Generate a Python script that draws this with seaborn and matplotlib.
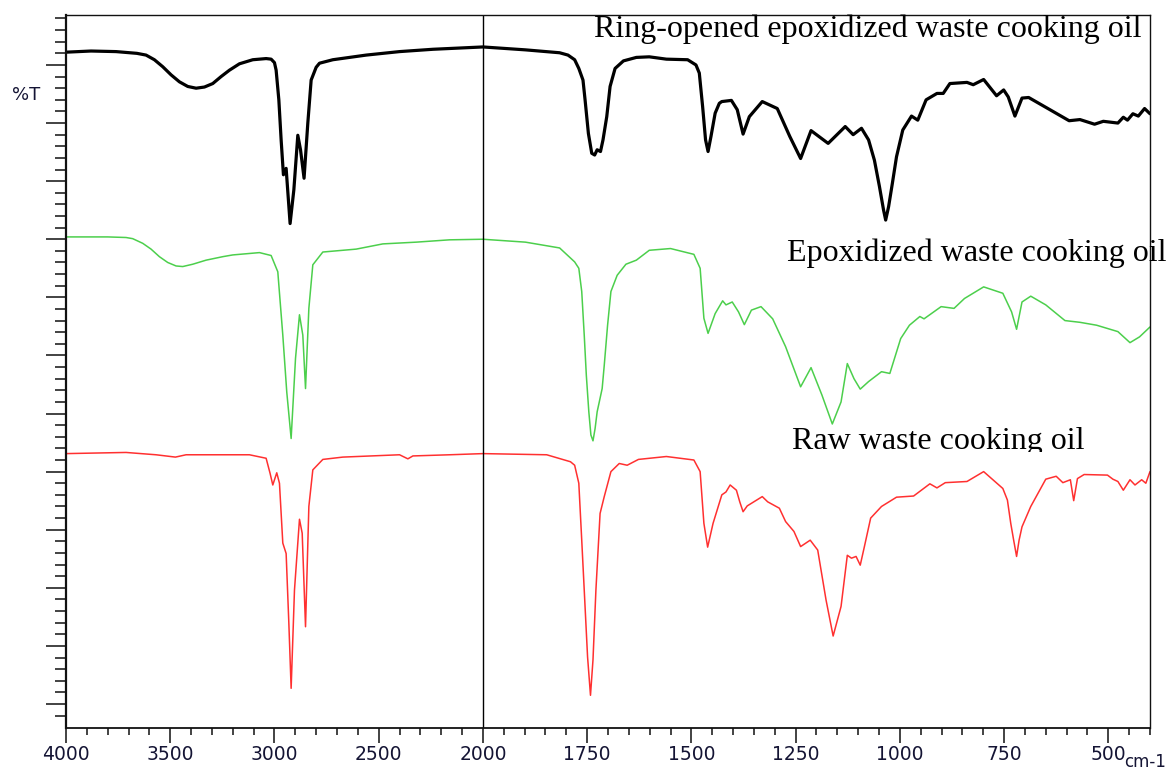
import numpy as np
import pandas as pd
import matplotlib
matplotlib.use("Agg")
import matplotlib.pyplot as plt
import seaborn as sns
from matplotlib.ticker import FixedLocator, FuncFormatter
from matplotlib.transforms import Bbox

# ---------------- data: (wavenumber cm-1, displayed %T, stacked traces) ----------------
ring_pts = [(4000, 112.2), (3880, 112.4), (3760, 112.3), (3660, 112.0), (3616, 111.7), (3576, 110.9),
            (3536, 109.7), (3496, 108.3), (3456, 107.1), (3416, 106.3), (3376, 106.0), (3336, 106.2),
            (3296, 106.8), (3256, 108.0), (3216, 109.1), (3168, 110.2), (3104, 110.9), (3040, 111.1),
            (3016, 111.0), (3000, 110.4), (2992, 109.1), (2979, 104.0), (2968, 97.1), (2957, 91.1),
            (2944, 92.2), (2925, 82.7), (2907, 88.5), (2888, 97.9), (2875, 95.4), (2858, 90.5),
            (2840, 100.0), (2824, 107.4), (2800, 109.6), (2784, 110.3), (2720, 110.9), (2560, 111.7),
            (2400, 112.3), (2240, 112.7), (2000, 113.1), (1898, 112.6), (1816, 112.1), (1796, 111.7),
            (1780, 110.9), (1770, 109.4), (1760, 107.4), (1755, 104.0), (1747, 98.2), (1739, 94.8),
            (1732, 94.5), (1726, 95.4), (1718, 95.1), (1712, 97.1), (1703, 101.1), (1695, 106.3),
            (1683, 109.4), (1663, 110.7), (1632, 111.3), (1601, 111.4), (1560, 111.0), (1509, 110.9),
            (1489, 110.0), (1481, 108.6), (1473, 102.8), (1466, 97.1), (1460, 95.1), (1453, 97.7),
            (1443, 101.7), (1433, 103.4), (1427, 103.7), (1404, 103.9), (1390, 102.3), (1376, 98.1),
            (1361, 101.1), (1330, 103.7), (1294, 102.5), (1264, 97.7), (1238, 93.9), (1213, 98.7),
            (1172, 96.5), (1131, 99.4), (1112, 98.0), (1092, 99.1), (1075, 97.1), (1061, 93.6),
            (1049, 89.1), (1039, 85.0), (1034, 83.3), (1027, 85.6), (1018, 89.6), (1008, 94.2),
            (993, 98.8), (972, 101.2), (957, 100.5), (937, 104.0), (911, 105.1), (896, 105.1),
            (880, 106.8), (839, 107.0), (824, 106.6), (799, 107.5), (768, 104.7), (751, 105.7),
            (740, 104.5), (724, 101.2), (707, 104.3), (691, 104.4), (640, 102.3), (594, 100.4),
            (568, 100.6), (533, 99.8), (512, 100.3), (477, 100.0), (464, 101.0), (454, 100.5),
            (441, 101.6), (428, 101.2), (413, 102.5), (400, 101.6)]

epox_pts = [(4000, 80.4), (3800, 80.4), (3712, 80.3), (3680, 80.1), (3632, 79.3), (3592, 78.3),
            (3552, 77.0), (3512, 76.0), (3472, 75.4), (3440, 75.3), (3392, 75.7), (3328, 76.4),
            (3248, 77.0), (3200, 77.3), (3072, 77.7), (3016, 77.2), (2984, 74.4), (2960, 63.5),
            (2941, 53.7), (2920, 45.7), (2899, 59.5), (2880, 67.0), (2864, 63.5), (2851, 54.3),
            (2835, 68.1), (2816, 75.6), (2768, 77.8), (2608, 78.3), (2480, 79.2), (2320, 79.5),
            (2160, 79.9), (2000, 80.0), (1898, 79.5), (1816, 78.5), (1780, 76.1), (1770, 75.0),
            (1763, 71.0), (1757, 63.5), (1752, 56.6), (1746, 50.3), (1741, 46.3), (1736, 45.3),
            (1731, 47.4), (1726, 50.3), (1714, 54.3), (1709, 58.3), (1701, 65.2), (1693, 71.0),
            (1678, 73.8), (1657, 75.7), (1632, 76.4), (1601, 78.1), (1550, 78.4), (1494, 77.4),
            (1479, 75.0), (1470, 66.4), (1460, 63.8), (1443, 67.2), (1425, 69.4), (1417, 68.7),
            (1402, 69.2), (1387, 67.5), (1373, 65.3), (1356, 67.8), (1333, 68.4), (1305, 66.3),
            (1274, 61.5), (1238, 54.6), (1213, 57.9), (1187, 53.2), (1162, 48.2), (1141, 52.0),
            (1126, 58.6), (1110, 56.0), (1095, 54.2), (1075, 55.5), (1044, 57.2), (1024, 56.9),
            (998, 62.9), (977, 65.2), (952, 66.7), (942, 66.3), (901, 68.4), (870, 68.1),
            (845, 69.8), (799, 71.8), (753, 70.7), (732, 67.5), (720, 64.5), (707, 69.2),
            (686, 70.2), (650, 68.7), (604, 66.0), (568, 65.7), (528, 65.2), (477, 64.1),
            (448, 62.2), (425, 63.2), (400, 64.9)]

raw_pts = [(4000, 43.1), (3712, 43.3), (3568, 42.9), (3475, 42.5), (3424, 42.9), (3120, 42.9),
           (3040, 42.3), (3021, 39.7), (3008, 37.7), (2989, 39.8), (2976, 38.0), (2960, 27.7),
           (2944, 25.9), (2931, 13.9), (2920, 2.7), (2904, 19.6), (2880, 31.8), (2867, 29.4),
           (2851, 13.3), (2835, 34.0), (2816, 40.3), (2768, 42.1), (2672, 42.5), (2400, 42.9),
           (2360, 42.2), (2336, 42.7), (2160, 42.9), (2000, 43.1), (1847, 42.9), (1790, 41.7),
           (1780, 41.1), (1770, 38.0), (1763, 28.2), (1757, 19.6), (1749, 8.1), (1742, 1.5),
           (1736, 7.6), (1729, 19.6), (1719, 32.8), (1709, 35.7), (1693, 40.0), (1673, 41.4),
           (1654, 41.1), (1627, 42.1), (1560, 42.6), (1494, 42.0), (1479, 40.0), (1470, 31.1),
           (1461, 27.0), (1448, 31.1), (1427, 36.0), (1417, 36.5), (1407, 37.7), (1392, 36.8),
           (1384, 34.8), (1376, 33.1), (1366, 34.1), (1330, 35.7), (1317, 34.8), (1289, 33.7),
           (1274, 31.4), (1254, 29.7), (1238, 27.1), (1215, 28.2), (1197, 26.5), (1177, 17.9),
           (1160, 11.7), (1141, 16.8), (1126, 25.6), (1116, 25.1), (1105, 25.4), (1095, 23.9),
           (1085, 27.1), (1070, 32.0), (1044, 34.0), (1008, 35.6), (967, 35.8), (928, 37.9),
           (911, 37.2), (891, 38.1), (839, 38.3), (799, 40.0), (753, 37.1), (742, 35.1),
           (734, 31.1), (727, 28.2), (720, 25.4), (714, 28.2), (707, 30.5), (686, 34.0),
           (650, 38.7), (625, 39.2), (609, 38.1), (591, 38.6), (583, 35.0), (574, 38.8),
           (558, 39.5), (502, 39.4), (489, 38.7), (477, 38.3), (464, 36.8), (448, 38.6),
           (436, 37.7), (420, 38.6), (410, 38.0), (400, 40.0)]

labels = ["Ring-opened epoxidized waste cooking oil",
          "Epoxidized waste cooking oil",
          "Raw waste cooking oil"]
x_major = [4000, 3500, 3000, 2500, 2000, 1750, 1500, 1250, 1000, 750, 500]

# ---------------- figure ----------------
sns.set_style("ticks")
plt.rcParams["font.family"] = ["DejaVu Sans"]

W, H = 1168, 773
fig = plt.figure(figsize=(W / 100, H / 100), dpi=100)
ax = fig.add_axes([66 / W, 1 - 727.7 / H, (1150 - 66) / W, (727.7 - 15) / H])


def to_df(pts):
    wn, t = zip(*pts)
    return pd.DataFrame({"wn": wn, "T": t})


sns.lineplot(data=to_df(ring_pts), x="wn", y="T", ax=ax, color="black", linewidth=2.3, estimator=None)
sns.lineplot(data=to_df(epox_pts), x="wn", y="T", ax=ax, color="#4ccf4c", linewidth=1.1, estimator=None)
sns.lineplot(data=to_df(raw_pts), x="wn", y="T", ax=ax, color="#ff3030", linewidth=1.1, estimator=None)

ax.axvline(2000, color="black", linewidth=1.0)


def fwd(x):
    x = np.asarray(x, dtype=float)
    return np.where(x <= 2000, x, 2000 + (x - 2000) / 2.0)


def inv(t):
    t = np.asarray(t, dtype=float)
    return np.where(t <= 2000, t, 2000 + (t - 2000) * 2.0)


ax.set_xscale("function", functions=(fwd, inv))
ax.set_xlim(4000, 400)
ax.set_ylim(-4.08, 118.6)

x_minor = [v for v in list(range(4000, 2000, -100)) + list(range(2000, 399, -50)) if v not in x_major]
ax.xaxis.set_major_locator(FixedLocator(x_major))
ax.xaxis.set_minor_locator(FixedLocator(x_minor))
ax.xaxis.set_major_formatter(FuncFormatter(lambda v, p: f"{v:.0f}"))

ax.yaxis.set_major_locator(FixedLocator(list(range(0, 111, 10))))
ax.yaxis.set_minor_locator(FixedLocator([v for v in range(-2, 119, 2) if v % 10 != 0]))
ax.set_yticklabels([])

ax.set_xlabel("")
ax.set_ylabel("")

lab_color = "#141434"
ax.tick_params(axis="x", which="major", direction="out", length=10.8, width=1.2, color="#222222",
               labelsize=13.5, labelcolor=lab_color, pad=2)
ax.tick_params(axis="x", which="minor", direction="out", length=5.0, width=1.2, color="#222222")
ax.tick_params(axis="y", which="major", direction="out", length=14.2, width=1.2, color="#222222")
ax.tick_params(axis="y", which="minor", direction="out", length=7.9, width=1.2, color="#222222")

for side in ["left", "right", "top", "bottom"]:
    ax.spines[side].set_visible(True)
    ax.spines[side].set_color("#111111")
ax.spines["left"].set_linewidth(1.6)
ax.spines["bottom"].set_linewidth(1.3)
ax.spines["top"].set_linewidth(1.0)
ax.spines["right"].set_linewidth(1.0)

serif = ["Liberation Serif", "DejaVu Serif"]
ax.text((594 - 66) / 1084, (727.7 - 37) / 712.7, labels[0], transform=ax.transAxes,
        fontsize=23, family=serif, ha="left", va="baseline", color="black")
ax.text((787 - 66) / 1084, (727.7 - 261) / 712.7, labels[1], transform=ax.transAxes,
        fontsize=23, family=serif, ha="left", va="baseline", color="black", clip_on=False)
t_raw = ax.text((792 - 66) / 1084, (727.7 - 449) / 712.7, labels[2], transform=ax.transAxes,
                fontsize=23, family=serif, ha="left", va="baseline", color="black")
t_raw.set_clip_on(True)
t_raw.set_clip_box(Bbox.from_extents(0, H - 452, W, H))

fig.text(12 / W, 1 - 95 / H, "%T", fontsize=13, color=lab_color, ha="left", va="center")
fig.text(1124 / W, 1 - 771 / H, "cm-1", fontsize=12, color=lab_color, ha="left", va="bottom")

fig.savefig("out.png", dpi=100)
